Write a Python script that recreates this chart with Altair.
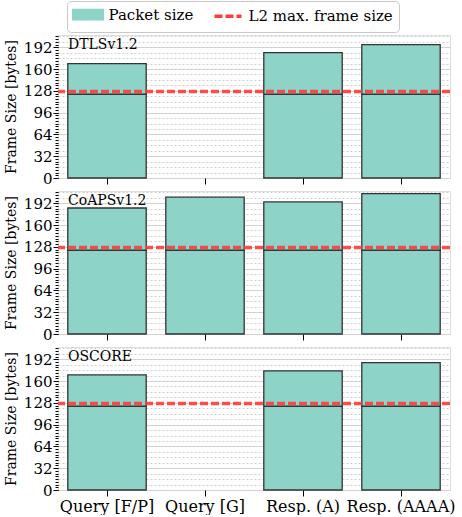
import altair as alt
import pandas as pd

categories = ["Query [F/P]", "Query [G]", "Resp. (A)", "Resp. (AAAA)"]
panels = ["DTLSv1.2", "CoAPSv1.2", "OSCORE"]
totals_dtls = [168, None, 184, 196]
totals_coaps = [185, 201, 194, 206]
totals_oscore = [169, None, 175, 187]
first_frame = 123
l2_max = 127
y_major = [0, 32, 64, 96, 128, 160, 192]
y_minor_grid = list(range(0, 209, 8))
y_minor_ticks = list(range(0, 209, 4))
series = ["Packet size", "L2 max. frame size"]

FONT = "DejaVu Serif"
TEAL = "#8dd3c7"
RED = "#ff3b3b"

rows = []
for name, tots in zip(panels, [totals_dtls, totals_coaps, totals_oscore]):
    for cat, tot in zip(categories, tots):
        if tot is None:
            continue
        rows.append({"panel": name, "category": cat, "fragment": 1,
                     "value": min(tot, first_frame), "series": series[0]})
        if tot > first_frame:
            rows.append({"panel": name, "category": cat, "fragment": 2,
                         "value": tot - first_frame, "series": series[0]})
df = pd.DataFrame(rows)

color_scale = alt.Scale(domain=series, range=[TEAL, RED])
dash_scale = alt.Scale(domain=series, range=[[1, 0], [8, 3]])
shape_scale = alt.Scale(domain=series, range=["M-9.5,-2.83H9.5V2.83H-9.5Z", "M-9,0H9"])
legend = alt.Legend(
    title=None, orient="none", direction="horizontal",
    legendX=9, legendY=-34,
    labelFont=FONT, labelFontSize=15, labelColor="black",
    strokeColor="#c8c8c8", cornerRadius=4, padding=6, fillColor="white",
    columnPadding=13, symbolSize=9, symbolOpacity=1, symbolStrokeWidth=3.5,
    symbolOffset=7.5, labelOffset=13,
)

yscale = alt.Scale(domain=[0, 210], nice=False, zero=True)


def panel(name, bottom):
    d = df[df.panel == name]
    xaxis = alt.Axis(title=None, labels=bottom, labelAngle=0, labelFont=FONT,
                     labelFontSize=16, labelColor="black", labelOverlap=False,
                     labelPadding=2, tickSize=6, tickColor="black",
                     domain=False, grid=False, ticks=True)
    bars = alt.Chart(d).mark_bar(stroke="#333333", strokeWidth=1.3).encode(
        x=alt.X("category:N", sort=categories,
                scale=alt.Scale(domain=categories, paddingInner=0.2, paddingOuter=0.1),
                axis=xaxis),
        y=alt.Y("value:Q", stack="zero", scale=yscale,
                axis=alt.Axis(orient="left", values=y_major, title="Frame Size [bytes]",
                              titleFont=FONT, titleFontSize=14, titleFontWeight="normal",
                              titleColor="black", titlePadding=5,
                              labelFont=FONT, labelFontSize=15, labelColor="black",
                              labelPadding=1, tickSize=5, tickColor="black",
                              domain=False, grid=True, gridColor="#d4d4d4",
                              gridWidth=1)),
        color=alt.Color("series:N", scale=color_scale, legend=legend),
        order=alt.Order("fragment:Q"),
    )
    rule = alt.Chart(pd.DataFrame({"y": [l2_max], "series": [series[1]]})).mark_rule(
        opacity=0.9, strokeWidth=3.4
    ).encode(
        y=alt.Y("y:Q", scale=yscale,
                axis=alt.Axis(orient="left", values=y_minor_grid, title=None,
                              labels=False, ticks=False, domain=False, grid=True,
                              gridColor="#d0d0d0", gridDash=[2, 2], gridWidth=1)),
        color=alt.Color("series:N", scale=color_scale, legend=legend),
        strokeDash=alt.StrokeDash("series:N", scale=dash_scale, legend=legend),
    )
    keys = alt.Chart(pd.DataFrame({"series": series, "y": [0, 0]})).mark_point(
        opacity=0, filled=True
    ).encode(
        y=alt.Y("y:Q", scale=yscale,
                axis=alt.Axis(orient="left", values=y_minor_ticks, title=None,
                              labels=False, ticks=True, tickSize=3,
                              tickColor="black", domain=False, grid=False)),
        shape=alt.Shape("series:N", scale=shape_scale, legend=legend),
        color=alt.Color("series:N", scale=color_scale, legend=legend),
    )
    label = alt.Chart(pd.DataFrame({"t": [name]})).mark_text(
        align="left", baseline="top", font=FONT, fontSize=14, color="black"
    ).encode(text="t:N", x=alt.value(10), y=alt.value(3))
    return alt.layer(bars, rule, keys, label).resolve_axis(y="independent").properties(
        width=392, height=143)


chart = alt.vconcat(
    panel("DTLSv1.2", False), panel("CoAPSv1.2", False), panel("OSCORE", True),
    spacing=3,
).properties(padding={"left": 3, "top": 0, "right": 5, "bottom": 0}).configure_view(
    stroke="black", strokeWidth=1.5
).configure(background="white")

chart.save("out.html", embed_options={"renderer": "svg", "actions": False})
